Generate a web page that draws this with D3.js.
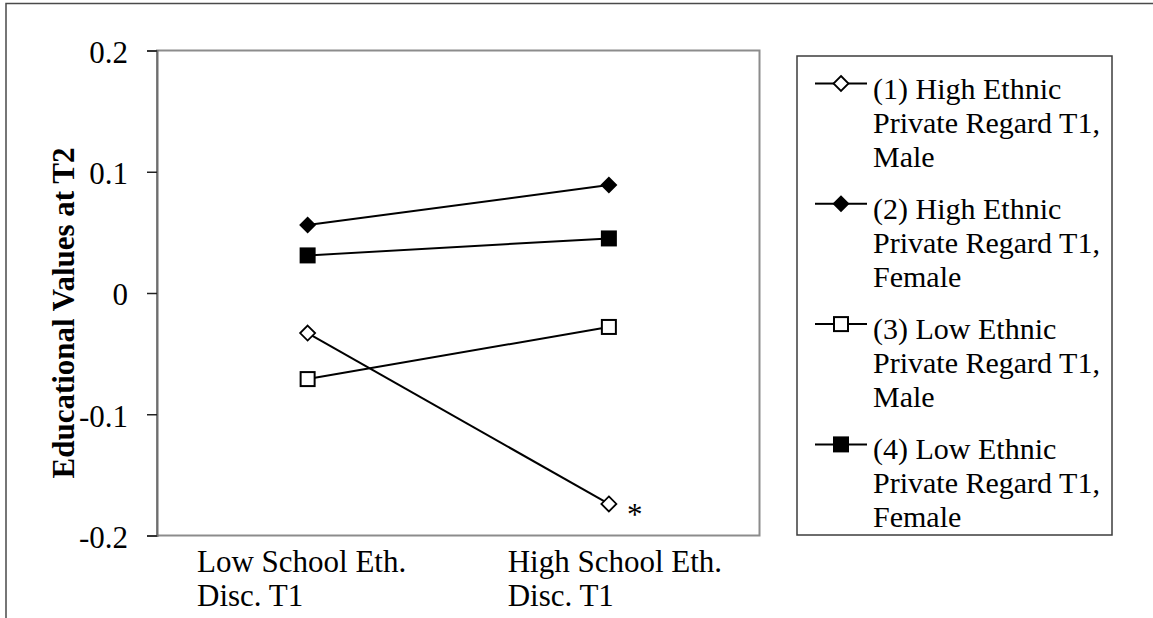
<!DOCTYPE html>
<html><head><meta charset="utf-8">
<script src="https://cdn.jsdelivr.net/npm/d3@7"></script>
<style>
html,body{margin:0;padding:0;background:#fff;}
svg{display:block;}
text{font-family:"Liberation Serif","Times New Roman",serif;fill:#000;}
</style></head>
<body>
<svg id="chart" width="1153" height="618"></svg>
<script>
// ---- data ----
const categories = ["Low School Eth. Disc. T1", "High School Eth. Disc. T1"];
const categoryLines = [["Low School Eth.", "Disc. T1"], ["High School Eth.", "Disc. T1"]];
const seriesNames = [
  "(1) High Ethnic Private Regard T1, Male",
  "(2) High Ethnic Private Regard T1, Female",
  "(3) Low Ethnic Private Regard T1, Male",
  "(4) Low Ethnic Private Regard T1, Female"
];
const seriesLegendLines = [
  ["(1) High Ethnic", "Private Regard T1,", "Male"],
  ["(2) High Ethnic", "Private Regard T1,", "Female"],
  ["(3) Low Ethnic", "Private Regard T1,", "Male"],
  ["(4) Low Ethnic", "Private Regard T1,", "Female"]
];
const series1 = [-0.033, -0.174];
const series2 = [0.056, 0.089];
const series3 = [-0.071, -0.028];
const series4 = [0.031, 0.045];
const seriesMarkers = ["diamondOpen", "diamondFilled", "squareOpen", "squareFilled"];
const yTicks = [0.2, 0.1, 0, -0.1, -0.2];
const yTickLabels = ["0.2", "0.1", "0", "-0.1", "-0.2"];
const yTitle = "Educational Values at T2";
const significanceMark = "*";

const allSeries = [series1, series2, series3, series4];

// ---- layout ----
const svg = d3.select("#chart");
const plot = {left: 157, right: 759.5, top: 50.5, bottom: 535.5};

const x = d3.scaleBand().domain(categories).range([plot.left, plot.right]);
const y = d3.scaleLinear().domain([-0.2, 0.2]).range([plot.bottom, plot.top]);
const cx = c => x(c) + x.bandwidth() / 2;

// outer frame (figure border)
svg.append("path")
  .attr("d", `M6,640 L6,3.5 L1160,3.5`)
  .attr("fill", "none").attr("stroke", "#4a4a4a").attr("stroke-width", 1.5);

// plot area border
svg.append("rect")
  .attr("x", plot.left).attr("y", plot.top)
  .attr("width", plot.right - plot.left).attr("height", plot.bottom - plot.top)
  .attr("fill", "none").attr("stroke", "#8c8c8c").attr("stroke-width", 2);

// y axis
const yAxis = d3.axisLeft(y).tickValues(yTicks).tickSize(10).tickPadding(19)
  .tickFormat((d, i) => yTickLabels[i]);
const gy = svg.append("g").attr("transform", `translate(${plot.left},0)`).call(yAxis);
gy.select(".domain").attr("stroke", "#6e6e6e").attr("stroke-width", 2);
gy.selectAll(".tick line").attr("stroke", "#222").attr("stroke-width", 1.5);
gy.selectAll(".tick text")
  .attr("font-family", "Liberation Serif, Times New Roman, serif")
  .attr("font-size", 31).attr("fill", "#000").attr("dy", "0.38em");

// y title
svg.append("text")
  .attr("transform", `translate(74,${(plot.top + plot.bottom) / 2 + 20}) rotate(-90)`)
  .attr("text-anchor", "middle")
  .attr("font-weight", "bold").attr("font-size", 31)
  .text(yTitle);

// x category labels
const xl = svg.append("g");
categories.forEach((c, i) => {
  const t = xl.append("text").attr("font-size", 31);
  categoryLines[i].forEach((ln, j) => {
    t.append("tspan").attr("y", 572 + j * 34.3).text(ln);
  });
  const w = t.select("tspan").node().getComputedTextLength();
  t.selectAll("tspan").attr("x", cx(c) - w / 2 + (i === 0 ? -6 : 6));
});

// marker drawing
function drawMarker(g, type, px, py) {
  if (type === "diamondOpen") {
    const r = 7.5;
    g.append("path").attr("d", `M${px},${py - r}L${px + r},${py}L${px},${py + r}L${px - r},${py}Z`)
      .attr("fill", "#fff").attr("stroke", "#000").attr("stroke-width", 1.8);
  } else if (type === "diamondFilled") {
    const r = 8.5;
    g.append("path").attr("d", `M${px},${py - r}L${px + r},${py}L${px},${py + r}L${px - r},${py}Z`)
      .attr("fill", "#000");
  } else if (type === "squareOpen") {
    const s = 14;
    g.append("rect").attr("x", px - s / 2).attr("y", py - s / 2).attr("width", s).attr("height", s)
      .attr("fill", "#fff").attr("stroke", "#000").attr("stroke-width", 2);
  } else {
    const s = 16;
    g.append("rect").attr("x", px - s / 2).attr("y", py - s / 2).attr("width", s).attr("height", s)
      .attr("fill", "#000");
  }
}

// series lines
const line = d3.line().x((d, i) => cx(categories[i])).y(d => y(d));
const gl = svg.append("g");
allSeries.forEach(vals => {
  gl.append("path").datum(vals).attr("d", line)
    .attr("fill", "none").attr("stroke", "#000").attr("stroke-width", 2);
});
const gm = svg.append("g");
allSeries.forEach((vals, si) => {
  vals.forEach((v, i) => drawMarker(gm, seriesMarkers[si], cx(categories[i]), y(v)));
});

// significance asterisk next to series 1, high category
svg.append("text")
  .attr("x", cx(categories[1]) + 18).attr("y", y(series1[1]) + 21)
  .attr("font-size", 31).text(significanceMark);

// legend
const leg = {x: 797, y: 56, w: 315, h: 479};
svg.append("rect").attr("x", leg.x).attr("y", leg.y).attr("width", leg.w).attr("height", leg.h)
  .attr("fill", "#fff").attr("stroke", "#3c3c3c").attr("stroke-width", 1.5);
const gleg = svg.append("g");
seriesNames.forEach((name, si) => {
  const sy = 83.5 + si * 120.3;
  gleg.append("line").attr("x1", 815).attr("x2", 867).attr("y1", sy).attr("y2", sy)
    .attr("stroke", "#000").attr("stroke-width", 2);
  drawMarker(gleg, seriesMarkers[si], 841, sy);
  const t = gleg.append("text").attr("font-size", 30);
  seriesLegendLines[si].forEach((ln, j) => {
    t.append("tspan").attr("x", 873).attr("y", sy + 15 + j * 34).text(ln);
  });
});
</script>
</body></html>
